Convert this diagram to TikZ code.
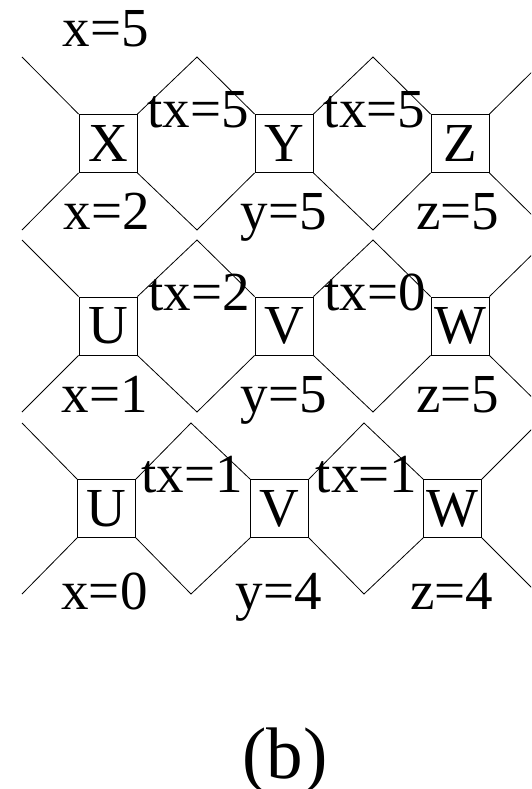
\documentclass[tikz,border=0pt]{standalone}
\usepackage{fontspec}
\setmainfont{Liberation Serif}
\usetikzlibrary{positioning}
\tikzset{
  cell/.style={draw, line width=0.8pt, minimum size=58pt, inner sep=0pt},
  leg/.style={line width=0.8pt},
  val/.style={anchor=base, inner sep=0pt},
}

\begin{document}
\begin{tikzpicture}[x=1pt, y=-1pt, font=\fontsize{55}{60}\selectfont]
  \useasboundingbox (0,0) rectangle (531,789);
  \clip (0,0) rectangle (531,789);

  % row 1
  \node[cell] (X1) at (108,143.5) {X};
  \node[cell] (Y1) at (284,143.5) {Y};
  \node[cell] (Z1) at (460,143.5) {Z};
  \coordinate (t10) at (22,57);  \coordinate (t11) at (197,57);
  \coordinate (t12) at (373,57); \coordinate (t13) at (547,57);
  \coordinate (b10) at (22,230);  \coordinate (b11) at (197,230);
  \coordinate (b12) at (373,230); \coordinate (b13) at (547,230);

  % row 2
  \node[cell] (U2) at (108,326) {U};
  \node[cell] (V2) at (284,326) {V};
  \node[cell] (W2) at (460,326) {W};
  \coordinate (t20) at (22,240);  \coordinate (t21) at (197,240);
  \coordinate (t22) at (373,240); \coordinate (t23) at (547,240);
  \coordinate (b20) at (22,412);  \coordinate (b21) at (197,412);
  \coordinate (b22) at (373,412); \coordinate (b23) at (547,412);

  % row 3
  \node[cell] (U3) at (106.5,508.5) {U};
  \node[cell] (V3) at (279.5,508.5) {V};
  \node[cell] (W3) at (452.5,508.5) {W};
  \coordinate (t30) at (22,423);  \coordinate (t31) at (191,423);
  \coordinate (t32) at (364,423); \coordinate (t33) at (538,423);
  \coordinate (b30) at (22,594);  \coordinate (b31) at (191,594);
  \coordinate (b32) at (364,594); \coordinate (b33) at (538,594);

  % legs
  \foreach \r/\a/\b/\c in {1/X1/Y1/Z1, 2/U2/V2/W2, 3/U3/V3/W3} {
    \draw[leg] (t\r0) -- (\a.north west) (\a.north east) -- (t\r1) -- (\b.north west)
      (\b.north east) -- (t\r2) -- (\c.north west) (\c.north east) -- (t\r3);
    \draw[leg] (b\r0) -- (\a.south west) (\a.south east) -- (b\r1) -- (\b.south west)
      (\b.south east) -- (b\r2) -- (\c.south west) (\c.south east) -- (b\r3);
  }

  % values
  \node[val] (x5) at (106,47) {x=5};
  \node[val] (tx5a) at (198,128) {tx=5};
  \node[val] (tx5b) at (374.5,128) {tx=5};
  \node[val] (x2) at (107,229) {x=2};
  \node[val] (y5a) at (284,229) {y=5};
  \node[val] (z5a) at (458,229) {z=5};

  \node[val] (tx2) at (199,310) {tx=2};
  \node[val] (tx0) at (375,310) {tx=0};
  \node[val] (x1) at (105,412) {x=1};
  \node[val] (y5b) at (284,412) {y=5};
  \node[val] (z5b) at (458,412) {z=5};

  \node[val] (tx1a) at (192,492) {tx=1};
  \node[val] (tx1b) at (366.5,492) {tx=1};
  \node[val] (x0) at (104.5,609) {x=0};
  \node[val] (y4) at (279,609) {y=4};
  \node[val] (z4) at (451.5,609) {z=4};

  \node[val, font=\fontsize{73}{80}\selectfont] (caption) at (285,778) {(b)};
\end{tikzpicture}
\end{document}
